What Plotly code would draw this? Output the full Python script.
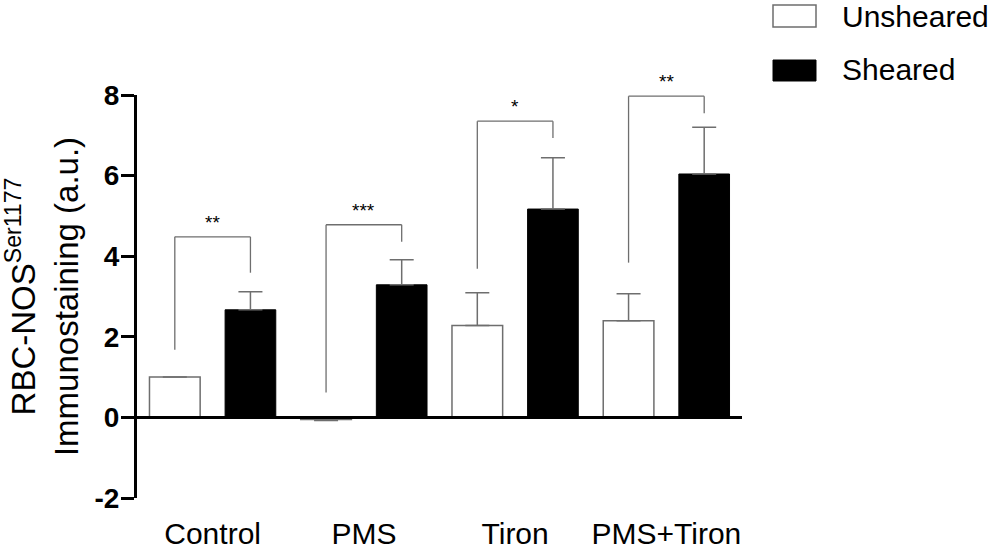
import plotly.graph_objects as go

categories = ["Control", "PMS", "Tiron", "PMS+Tiron"]
unsheared = [1.0, -0.05, 2.28, 2.40]
unsheared_err = [0.0, 0.03, 0.81, 0.67]
sheared = [2.67, 3.29, 5.17, 6.04]
sheared_err = [0.45, 0.62, 1.27, 1.16]

# significance brackets: left foot, top, right foot (y values), label
bracket_left = [1.68, 0.62, 3.69, 3.84]
bracket_top = [4.48, 4.78, 7.35, 7.97]
bracket_right = [3.59, 4.36, 6.93, 7.55]
sig_labels = ["**", "***", "*", "**"]

y_ticks = [-2, 0, 2, 4, 6, 8]
y_tick_text = ["-2", "0", "2", "4", "6", "8"]

FONT = "Liberation Sans, Arial, sans-serif"
GREY = "#6e6e6e"


def up(vals, errs):
    return [e if v >= 0 else 0 for v, e in zip(vals, errs)]


def down(vals, errs):
    return [e if v < 0 else 0 for v, e in zip(vals, errs)]


fig = go.Figure()
fig.add_trace(go.Bar(
    x=categories, y=unsheared, name="Unsheared",
    marker=dict(color="white", line=dict(color=GREY, width=1.5)),
    error_y=dict(type="data", symmetric=False,
                 array=up(unsheared, unsheared_err),
                 arrayminus=down(unsheared, unsheared_err),
                 color=GREY, thickness=1.5, width=12),
))
fig.add_trace(go.Bar(
    x=categories, y=sheared, name="Sheared",
    marker=dict(color="black", line=dict(color="black", width=1)),
    error_y=dict(type="data", symmetric=False,
                 array=up(sheared, sheared_err),
                 arrayminus=down(sheared, sheared_err),
                 color=GREY, thickness=1.5, width=12),
))

shapes = []
shapes.append(dict(type="line", xref="x", yref="y", x0=-0.5, x1=3.5, y0=0, y1=0,
                   line=dict(color="black", width=3), layer="above"))
for i in range(len(categories)):
    xl, xr = i - 0.25, i + 0.25
    for (a, b, c, d) in [(xl, bracket_left[i], xl, bracket_top[i]),
                         (xl, bracket_top[i], xr, bracket_top[i]),
                         (xr, bracket_top[i], xr, bracket_right[i])]:
        shapes.append(dict(type="line", xref="x", yref="y", x0=a, y0=b, x1=c, y1=d,
                           line=dict(color=GREY, width=1.3), layer="above"))

annotations = []
for i, lab in enumerate(sig_labels):
    annotations.append(dict(x=i, y=bracket_top[i], xref="x", yref="y", text=lab,
                            showarrow=False, yanchor="bottom", yshift=2,
                            font=dict(family=FONT, size=19, color="black")))


def px_x(p):
    return (p - 137) / 605.0


def px_y(p):
    return (498 - p) / 403.0


shapes.append(dict(type="rect", xref="paper", yref="paper",
                   x0=px_x(773), x1=px_x(816), y0=px_y(27), y1=px_y(5),
                   line=dict(color=GREY, width=1.5), fillcolor="white"))
shapes.append(dict(type="rect", xref="paper", yref="paper",
                   x0=px_x(773), x1=px_x(816), y0=px_y(81), y1=px_y(60),
                   line=dict(color="black", width=1), fillcolor="black"))
annotations.append(dict(x=px_x(840), y=px_y(16), xref="paper", yref="paper",
                        text="Unsheared", showarrow=False, xanchor="left", yanchor="middle",
                        font=dict(family=FONT, size=30, color="black")))
annotations.append(dict(x=px_x(840), y=px_y(70), xref="paper", yref="paper",
                        text="Sheared", showarrow=False, xanchor="left", yanchor="middle",
                        font=dict(family=FONT, size=30, color="black")))

fig.update_layout(
    width=1000, height=554,
    margin=dict(l=137, r=258, t=95, b=56, autoexpand=False),
    paper_bgcolor="white", plot_bgcolor="white",
    barmode="group", bargap=0.0, bargroupgap=0.33,
    showlegend=False,
    shapes=shapes, annotations=annotations,
    font=dict(family=FONT, color="black"),
    xaxis=dict(
        range=[-0.5, 3.5], showline=False, showgrid=False, zeroline=False,
        automargin=False,
        ticks="", tickfont=dict(family=FONT, size=30, color="black"),
        ticklabelstandoff=15,
    ),
    yaxis=dict(
        range=[-2, 8], tickvals=y_ticks, ticktext=y_tick_text,
        showgrid=False, zeroline=False, automargin=False,
        showline=True, linecolor="black", linewidth=3,
        ticks="outside", ticklen=13, tickwidth=3, tickcolor="black",
        ticklabelstandoff=-4,
        tickfont=dict(family=FONT, size=28, color="black", weight="bold"),
        title=dict(text="RBC-NOS<sup>Ser1177</sup><br>Immunostaining (a.u.)",
                   font=dict(family=FONT, size=33, color="black"), standoff=14),
    ),
)

fig.write_html("out.html",
               config={"displayModeBar": False},
               post_script="document.body.style.margin='0';document.body.style.overflow='hidden';")
